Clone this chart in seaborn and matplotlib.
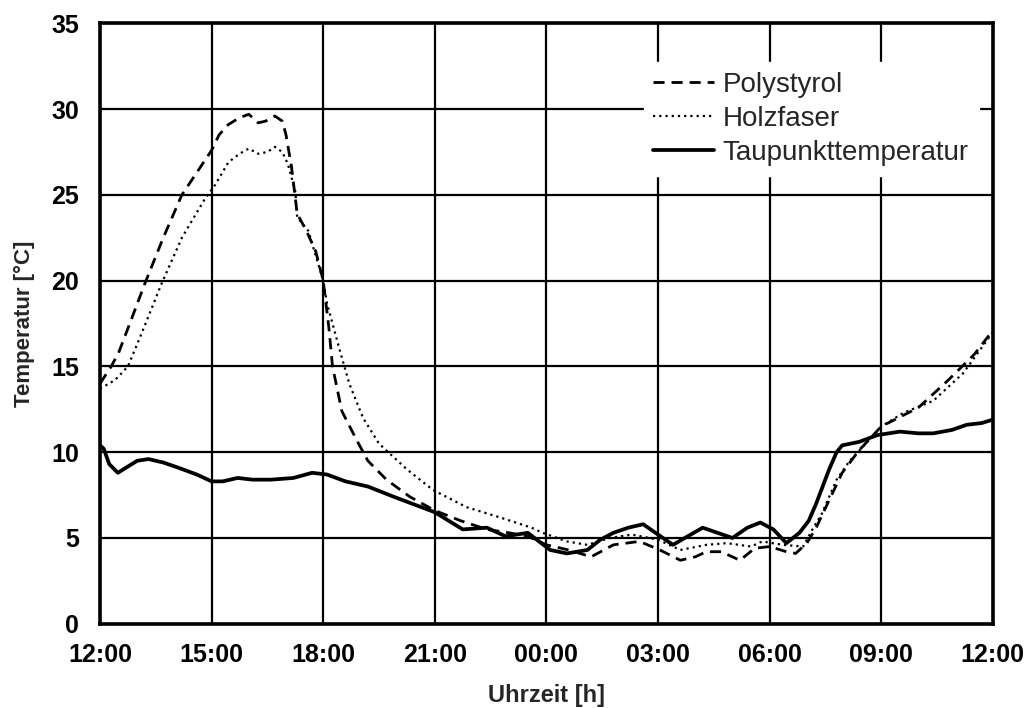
import numpy as np
import pandas as pd
import seaborn as sns
import matplotlib.pyplot as plt

# Stunden ab 12:00 Uhr
poly_t = [0, 0.3, 0.5, 0.8, 1.2, 1.7, 2.2, 2.6, 3.0, 3.2, 3.45, 3.75, 4.0, 4.25, 4.45, 4.7,
          4.9, 5.0, 5.15, 5.3, 5.55, 5.8, 6.0, 6.15, 6.25, 6.5, 6.9, 7.2, 7.7, 8.33, 9.0, 9.7,
          10.4, 11.0, 11.5, 12.0, 12.6, 13.2, 13.8, 14.5, 15.05, 15.6, 16.0, 16.3, 16.7, 17.2,
          17.6, 18.0, 18.45, 18.7, 19.0, 19.25, 19.6, 19.95, 20.4, 21.0, 22.0, 22.8, 23.5,
          24.0]
poly_v = [14.0, 15.0, 15.8, 17.5, 19.8, 22.5, 25.0, 26.3, 27.6, 28.5, 29.1, 29.5, 29.7, 29.2,
          29.3, 29.6, 29.3, 28.5, 26.6, 23.9, 22.9, 21.7, 20.0, 17.3, 15.0, 12.4, 10.7, 9.5,
          8.4, 7.4, 6.6, 6.0, 5.5, 5.3, 5.1, 4.6, 4.3, 3.9, 4.6, 4.8, 4.3, 3.7, 3.9, 4.2,
          4.2, 3.7, 4.4, 4.5, 4.2, 4.1, 4.7, 5.6, 7.2, 8.8, 10.1, 11.5, 12.6, 14.2, 15.7,
          17.1]

holz_t = [0, 0.4, 0.75, 1.0, 1.15, 1.65, 2.2, 2.8, 3.1, 3.45, 3.75, 4.0, 4.25, 4.5, 4.7,
          4.9, 5.05, 5.25, 5.3, 5.6, 6.0, 6.1, 6.45, 6.7, 7.07, 7.5, 8.25, 8.95, 9.85, 10.75,
          11.6, 11.9, 12.55, 13.1, 13.7, 14.3, 15.0, 15.6, 16.3, 16.85, 17.5, 17.8, 18.35,
          18.9, 19.15, 19.4, 19.8, 20.15, 20.5, 21.0, 21.6, 22.4, 23.2, 24.0]
holz_v = [13.7, 14.2, 15.0, 16.3, 17.1, 19.8, 22.5, 24.7, 25.6, 26.9, 27.4, 27.7, 27.4, 27.5,
          27.8, 27.5, 26.8, 25.2, 23.7, 22.9, 20.0, 18.7, 15.9, 14.0, 12.0, 10.5, 9.0, 7.8,
          6.8, 6.2, 5.6, 5.3, 4.8, 4.6, 5.0, 5.2, 4.9, 4.3, 4.6, 4.7, 4.5, 4.8, 4.6, 4.5, 5.5,
          6.4, 8.4, 9.5, 10.3, 11.5, 12.3, 13.0, 14.6, 17.0]

tau_t = [0, 0.1, 0.25, 0.48, 0.7, 1.0, 1.3, 1.7, 2.1, 2.6, 3.0, 3.3, 3.7, 4.1, 4.6, 5.2, 5.7,
         6.1, 6.6, 7.2, 7.9, 9.0, 9.75, 10.4, 10.9, 11.5, 12.1, 12.55, 13.1, 13.45, 13.8,
         14.2, 14.6, 15.0, 15.4, 15.8, 16.2, 16.6, 17.0, 17.4, 17.75, 18.1, 18.45, 18.8,
         19.05, 19.25, 19.6, 19.8, 19.95, 20.4, 20.9, 21.5, 22.0, 22.4, 22.9, 23.3, 23.7,
         24.0]
tau_v = [10.4, 10.2, 9.3, 8.8, 9.1, 9.5, 9.6, 9.4, 9.1, 8.7, 8.3, 8.3, 8.5, 8.4, 8.4, 8.5,
         8.8, 8.7, 8.3, 8.0, 7.4, 6.5, 5.5, 5.6, 5.1, 5.3, 4.3, 4.1, 4.3, 4.9, 5.3, 5.6, 5.8,
         5.2, 4.6, 5.1, 5.6, 5.3, 5.0, 5.6, 5.9, 5.5, 4.7, 5.3, 6.0, 7.0, 9.0, 10.0, 10.4,
         10.6, 11.0, 11.2, 11.1, 11.1, 11.3, 11.6, 11.7, 11.9]

x_ticks = [0, 3, 6, 9, 12, 15, 18, 21, 24]
x_labels = ["12:00", "15:00", "18:00", "21:00", "00:00", "03:00", "06:00", "09:00", "12:00"]
y_ticks = [0, 5, 10, 15, 20, 25, 30, 35]

sns.set_theme(style="white")
plt.rcParams['font.family'] = ['Liberation Sans', 'DejaVu Sans']

fig = plt.figure(figsize=(10.31, 7.08), dpi=100)
ax = fig.add_axes([0.097, 0.119, 0.866, 0.848])

sns.lineplot(x=poly_t, y=poly_v, ax=ax, color="black", linewidth=2.0,
             linestyle=(0, (4, 2.5)), label="Polystyrol", sort=False)
sns.lineplot(x=holz_t, y=holz_v, ax=ax, color="black", linewidth=1.6,
             linestyle=(0, (1, 1.8)), label="Holzfaser", sort=False)
sns.lineplot(x=tau_t, y=tau_v, ax=ax, color="black", linewidth=2.7,
             label="Taupunkttemperatur", sort=False)
for ln in ax.get_lines():
    ln.set_solid_joinstyle("round")
    ln.set_dash_joinstyle("round")

ax.set_xlim(0, 24)
ax.set_ylim(0, 35)
ax.set_xticks(x_ticks)
ax.set_xticklabels(x_labels)
ax.set_yticks(y_ticks)
ax.grid(True, color="black", linewidth=1.6)
ax.set_axisbelow(True)
for s in ax.spines.values():
    s.set_color("black")
    s.set_linewidth(2.6)
ax.tick_params(length=0, labelsize=18, colors="black")
ax.tick_params(axis="x", pad=14)
ax.tick_params(axis="y", pad=15)
for lab in ax.get_xticklabels() + ax.get_yticklabels():
    lab.set_fontweight("bold")

ax.set_xlabel("Uhrzeit [h]", fontsize=17, fontweight="bold", labelpad=12)
ax.set_ylabel("Temperatur [°C]", fontsize=16, fontweight="bold", labelpad=12)

leg = ax.legend(loc="upper right", bbox_to_anchor=(0.984, 0.936), fontsize=20,
                frameon=True, facecolor="white", edgecolor="white", framealpha=1,
                handlelength=2.2, handletextpad=0.3, labelspacing=0.3,
                borderpad=0.35, borderaxespad=0, fancybox=False)

fig.savefig("out.png", dpi=100, facecolor="white")
